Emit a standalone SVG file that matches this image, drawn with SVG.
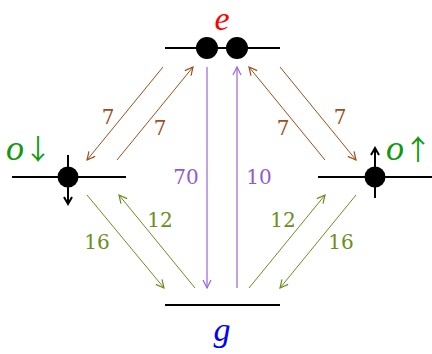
<svg xmlns="http://www.w3.org/2000/svg" width="432" height="354" viewBox="0 0 432 354">
<defs>
<marker id="ab" viewBox="0 0 10 10" refX="9" refY="5" markerWidth="10" markerHeight="10" markerUnits="userSpaceOnUse" orient="auto"><path d="M1,1 L9,5 L1,9" fill="none" stroke="#9c501c" stroke-width="1.2"/></marker>
<marker id="ap" viewBox="0 0 10 10" refX="9" refY="5" markerWidth="10" markerHeight="10" markerUnits="userSpaceOnUse" orient="auto"><path d="M1,1 L9,5 L1,9" fill="none" stroke="#9966dd" stroke-width="1.2"/></marker>
<marker id="ag" viewBox="0 0 10 10" refX="9" refY="5" markerWidth="10" markerHeight="10" markerUnits="userSpaceOnUse" orient="auto"><path d="M1,1 L9,5 L1,9" fill="none" stroke="#6b8e23" stroke-width="1.2"/></marker>
<marker id="ak" viewBox="0 0 10 10" refX="8" refY="5" markerWidth="10" markerHeight="10" markerUnits="userSpaceOnUse" orient="auto"><path d="M1,1 L8,5 L1,9" fill="none" stroke="#000" stroke-width="2"/></marker>
</defs>
<style>
.lvl{stroke:#000;stroke-width:2;fill:none}
.dot{fill:#000}
.spin{stroke:#000;stroke-width:2;fill:none;marker-end:url(#ak)}
.b{stroke:#9c501c;stroke-width:1;fill:none;marker-end:url(#ab)}
.p{stroke:#9966dd;stroke-width:1.2;fill:none;marker-end:url(#ap)}
.g{stroke:#6b8e23;stroke-width:1;fill:none;marker-end:url(#ag)}
.num{font-family:"DejaVu Serif","Liberation Serif",serif;font-size:20px;text-anchor:middle;dominant-baseline:central}
.tb{fill:#9c501c}.tp{fill:#9058d8}.tg{fill:#6b8e23}
.st{font-family:"Liberation Serif","DejaVu Serif",serif;font-style:italic;font-size:34px}
.ol{font-family:"Liberation Serif","DejaVu Serif",serif;font-size:36px;fill:#0f9a0f}
.ar{font-family:"Noto Sans CJK SC","Liberation Sans",sans-serif;font-size:28px;font-style:normal}
</style>
<g id="e">
<line class="lvl" x1="165" y1="48" x2="280" y2="48"/>
<circle class="dot" cx="207" cy="48" r="11"/>
<circle class="dot" cx="237" cy="48" r="11"/>
<text class="st" x="222" y="30" text-anchor="middle" fill="#ff0000">e</text>
</g>
<g id="odown">
<line class="lvl" x1="12" y1="177" x2="126" y2="177"/>
<circle class="dot" cx="68" cy="177" r="10.5"/>
<line class="spin" x1="68" y1="155" x2="68" y2="204"/>
<text class="ol" x="6" y="160"><tspan font-style="italic">o</tspan><tspan class="ar">↓</tspan></text>
</g>
<g id="oup">
<line class="lvl" x1="318" y1="177" x2="432" y2="177"/>
<circle class="dot" cx="375" cy="177" r="10.5"/>
<line class="spin" x1="375" y1="198" x2="375" y2="148"/>
<text class="ol" x="386" y="160"><tspan font-style="italic">o</tspan><tspan class="ar">↑</tspan></text>
</g>
<g id="g">
<line class="lvl" x1="165" y1="305" x2="280" y2="305"/>
<text class="st" x="222" y="341" text-anchor="middle" fill="#0000ff">g</text>
</g>
<g id="connectors">
<line class="b" x1="163" y1="67" x2="87" y2="160"/>
<line class="b" x1="117" y1="160" x2="193" y2="67"/>
<line class="b" x1="325" y1="160" x2="249" y2="67"/>
<line class="b" x1="280" y1="67" x2="356" y2="160"/>
<line class="p" x1="207" y1="67" x2="207" y2="288"/>
<line class="p" x1="237" y1="288" x2="237" y2="67"/>
<line class="g" x1="87" y1="195" x2="164" y2="288"/>
<line class="g" x1="195" y1="288" x2="119" y2="195"/>
<line class="g" x1="249" y1="288" x2="325" y2="195"/>
<line class="g" x1="356" y1="195" x2="280" y2="288"/>
<text class="num tb" x="108" y="117">7</text>
<text class="num tb" x="160" y="128">7</text>
<text class="num tb" x="283" y="128">7</text>
<text class="num tb" x="340" y="117">7</text>
<text class="num tp" x="186" y="177">70</text>
<text class="num tp" x="259" y="177">10</text>
<text class="num tg" x="97" y="242">16</text>
<text class="num tg" x="160" y="220">12</text>
<text class="num tg" x="283" y="220">12</text>
<text class="num tg" x="341" y="242">16</text>
</g>
</svg>
